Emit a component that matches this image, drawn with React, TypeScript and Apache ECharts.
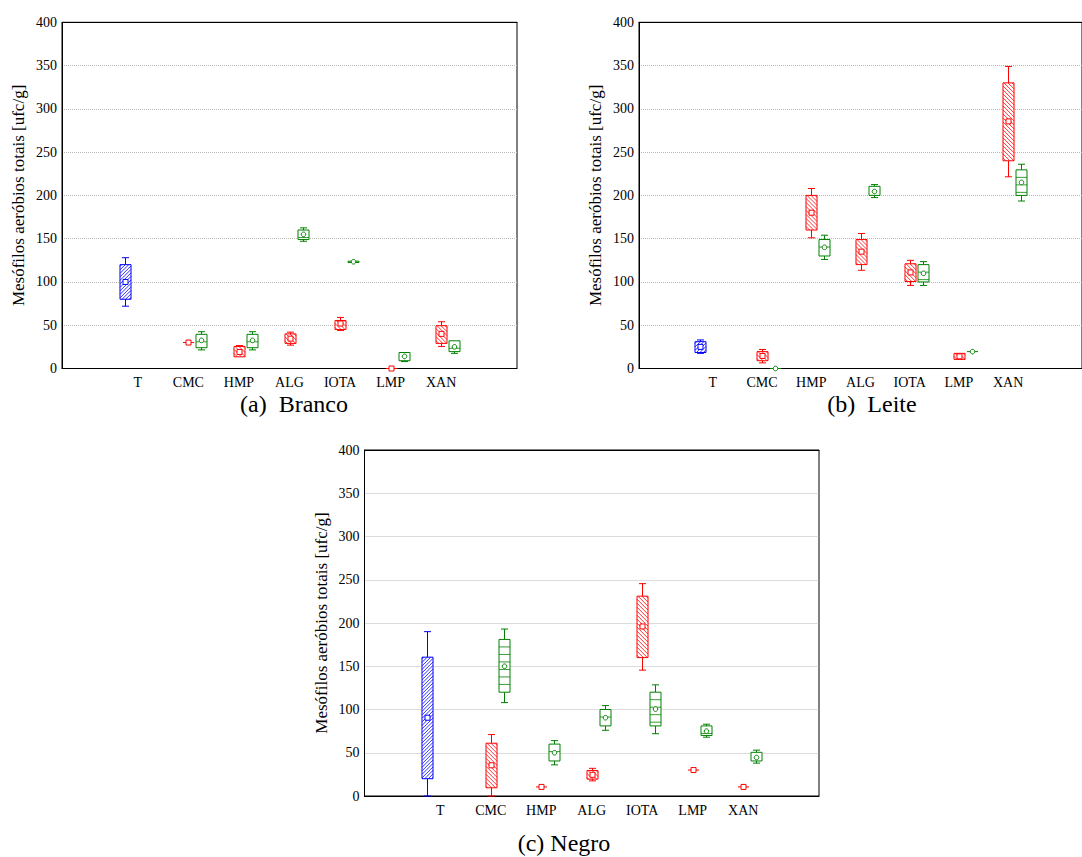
import React, { useEffect, useRef } from 'react';
import * as echarts from 'echarts';

const categories = ['', 'T', 'CMC', 'HMP', 'ALG', 'IOTA', 'LMP', 'XAN', ''];
const yMin = 0;
const yMax = 400;
const yInterval = 50;
const yName = 'Mesófilos aeróbios totais [ufc/g]';
const captions = ['(a)  Branco', '(b)  Leite', '(c) Negro'];

// each row: [categoryIndex, low whisker, box bottom, centre, box top, high whisker]
const brancoBlue = [[1, 72, 80, 100, 120, 128]];
const brancoRed = [
  [2, 30, 30, 30, 30, 30],
  [3, 13, 13.5, 19, 25.5, 26.5],
  [4, 27, 29, 34.5, 40, 42],
  [5, 44, 45, 52, 55.5, 59],
  [6, 0, 0, 0, 0, 0],
  [7, 25.5, 29, 40, 49.5, 54],
];
const brancoGreen = [
  [2, 21.5, 24, 32.5, 39.5, 42.5],
  [3, 21.5, 24, 32.5, 39.5, 42.5],
  [4, 147, 149, 155, 160, 162.5],
  [5, 122, 122.5, 123.3, 124, 124.5],
  [6, 8, 9, 14, 18.5, 19],
  [7, 17.5, 19.5, 25, 32, 32.5],
];

const leiteBlue = [[1, 17.5, 18.5, 25, 31, 33]];
const leiteRed = [
  [2, 6.5, 9, 14.5, 19.5, 22],
  [3, 151, 160, 180, 200, 208],
  [4, 113.5, 120, 135, 149, 156],
  [5, 96, 100.5, 111, 121, 125],
  [6, 10.5, 10.5, 14, 17.5, 17.5],
  [7, 221.5, 240, 285.5, 330, 349],
];
const leiteGreen = [
  [2, 0, 0, 0, 0, 0],
  [3, 126, 130, 140, 149, 154],
  [4, 197.5, 200, 204.5, 210.5, 212.5],
  [5, 96, 100, 110, 120, 123.5],
  [6, 19.5, 19.5, 19.5, 19.5, 19.5],
  [7, 193.5, 200, 215, 229.5, 236],
];

const negroBlue = [[1, 0, 20, 90.5, 160.5, 190]];
const negroRed = [
  [2, 0, 9.5, 35.5, 61, 71],
  [3, 10.5, 10.5, 10.5, 10.5, 10.5],
  [4, 17.5, 19.5, 24.5, 29.5, 32],
  [5, 145.5, 160, 196, 231, 245.5],
  [6, 30, 30, 30, 30, 30],
  [7, 10.5, 10.5, 10.5, 10.5, 10.5],
];
const negroGreen = [
  [2, 108, 120, 150, 181, 193],
  [3, 36, 40.5, 50, 60, 64],
  [4, 76, 81, 90.5, 100, 104.5],
  [5, 72, 81, 100.5, 120, 128.5],
  [6, 68, 70, 75, 81, 83],
  [7, 38, 40.5, 44.5, 50.5, 53],
];

const FONT = "'Liberation Serif', 'Times New Roman', serif";
const BLUE = '#0000ff';
const RED = '#ff0000';
const GREEN = '#008000';

type Kind = 'blue' | 'red' | 'green';

function makeRender(kind: Kind, color: string, offset: number) {
  return function (params: any, api: any) {
    const cat = api.value(0);
    const lo = api.value(1);
    const q1 = api.value(2);
    const mid = api.value(3);
    const q3 = api.value(4);
    const hi = api.value(5);
    const cx = api.coord([cat, mid])[0] + offset;
    const x = Math.round(cx) + 0.5;
    const yLo = api.coord([cat, lo])[1];
    const yQ1 = api.coord([cat, q1])[1];
    const yMid = api.coord([cat, mid])[1];
    const yQ3 = api.coord([cat, q3])[1];
    const yHi = api.coord([cat, hi])[1];
    const bw = 11;
    const cw = 7;
    const x0 = x - bw / 2;
    const ls = { stroke: color, lineWidth: 1, fill: null };
    const children: any[] = [];
    if (yHi < yQ3 - 0.5) {
      children.push({ type: 'line', shape: { x1: x, y1: yHi, x2: x, y2: yQ3 }, style: ls });
      children.push({ type: 'line', shape: { x1: x - cw / 2, y1: yHi, x2: x + cw / 2, y2: yHi }, style: ls });
    }
    if (yLo > yQ1 + 0.5) {
      children.push({ type: 'line', shape: { x1: x, y1: yQ1, x2: x, y2: yLo }, style: ls });
      children.push({ type: 'line', shape: { x1: x - cw / 2, y1: yLo, x2: x + cw / 2, y2: yLo }, style: ls });
    }
    const h = yQ1 - yQ3;
    if (h < 1) {
      children.push({ type: 'line', shape: { x1: x0, y1: yMid, x2: x0 + bw, y2: yMid }, style: ls });
    } else {
      children.push({
        type: 'rect',
        shape: { x: x0, y: yQ3, width: bw, height: h },
        style: { fill: '#fff', stroke: color, lineWidth: 1 },
      });
      const y0 = yQ3;
      const y1 = yQ1;
      const x1 = x0 + bw;
      const hs = { stroke: color, lineWidth: 0.8, fill: null };
      if (kind === 'green') {
        for (let yy = y0 + 7.5; yy < y1 - 2; yy += 7.5) {
          children.push({ type: 'line', shape: { x1: x0, y1: yy, x2: x1, y2: yy }, style: hs });
        }
      } else if (kind === 'red') {
        const step = 4;
        for (let c = y0 - x1 + step / 2; c < y1 - x0; c += step) {
          const xs = Math.max(x0, y0 - c);
          const xe = Math.min(x1, y1 - c);
          if (xe > xs) children.push({ type: 'line', shape: { x1: xs, y1: xs + c, x2: xe, y2: xe + c }, style: hs });
        }
      } else {
        const step = 3.5;
        for (let c = y0 + x0 + step / 2; c < y1 + x1; c += step) {
          const xs = Math.max(x0, c - y1);
          const xe = Math.min(x1, c - y0);
          if (xe > xs) children.push({ type: 'line', shape: { x1: xs, y1: c - xs, x2: xe, y2: c - xe }, style: hs });
        }
      }
    }
    if (kind === 'green') {
      children.push({ type: 'circle', shape: { cx: x, cy: yMid, r: 2.3 }, style: { fill: '#fff', stroke: color, lineWidth: 1 } });
    } else {
      children.push({ type: 'rect', shape: { x: x - 2.5, y: yMid - 2.5, width: 5, height: 5 }, style: { fill: '#fff', stroke: color, lineWidth: 1 } });
    }
    return { type: 'group', children };
  };
}

const grids = [
  { left: 62, top: 22.3, width: 455, height: 346.2 },
  { left: 639, top: 22.3, width: 453.6, height: 346.2 },
  { left: 364.5, top: 450, width: 454.5, height: 346 },
];

const seriesData = [
  [brancoBlue, brancoRed, brancoGreen],
  [leiteBlue, leiteRed, leiteGreen],
  [negroBlue, negroRed, negroGreen],
];

export default function App() {
  const ref = useRef<HTMLDivElement>(null);
  useEffect(() => {
    if (!ref.current) return;
    const chart = echarts.init(ref.current, null, { renderer: 'svg' });
    const xAxis: any[] = [];
    const yAxis: any[] = [];
    const series: any[] = [];
    grids.forEach((g, i) => {
      xAxis.push({
        type: 'category',
        gridIndex: i,
        data: categories,
        boundaryGap: true,
        axisLine: { lineStyle: { color: '#000', width: 1 } },
        axisTick: { alignWithLabel: true, inside: true, length: 3, lineStyle: { color: '#000' } },
        axisLabel: { interval: 0, color: '#000', fontFamily: FONT, fontSize: 14, margin: 7, lineHeight: 14 },
        splitLine: { show: false },
      });
      xAxis.push({
        type: 'category',
        gridIndex: i,
        position: 'top',
        data: categories,
        boundaryGap: true,
        axisLine: { lineStyle: { color: '#000', width: 1 } },
        axisTick: { alignWithLabel: true, inside: true, length: 3, lineStyle: { color: '#000' } },
        axisLabel: { show: false },
        splitLine: { show: false },
      });
      yAxis.push({
        type: 'value',
        gridIndex: i,
        min: yMin,
        max: yMax,
        interval: yInterval,
        name: yName,
        nameLocation: 'middle',
        nameGap: 35,
        nameTextStyle: { color: '#000', fontFamily: FONT, fontSize: 17 },
        axisLine: { show: true, lineStyle: { color: '#000', width: 1 } },
        axisTick: { show: false },
        axisLabel: { color: '#000', fontFamily: FONT, fontSize: 14, margin: 5 },
        splitLine: { show: true, lineStyle: { color: '#b8b8b8', type: 'dotted', width: 1 } },
      });
      const kinds: Kind[] = ['blue', 'red', 'green'];
      const colors = [BLUE, RED, GREEN];
      const offsets = [-13, 0, 13];
      kinds.forEach((k, j) => {
        series.push({
          type: 'custom',
          xAxisIndex: i * 2,
          yAxisIndex: i,
          data: seriesData[i][j],
          encode: { x: 0, y: 3 },
          renderItem: makeRender(k, colors[j], offsets[j]),
          clip: false,
          silent: true,
        });
      });
    });
    chart.setOption({
      animation: false,
      backgroundColor: '#fff',
      grid: grids.map((g) => ({ ...g, show: true, borderColor: '#000', borderWidth: 1, backgroundColor: 'transparent' })),
      xAxis,
      yAxis,
      series,
      graphic: [
        { type: 'text', x: 294, y: 404, style: { text: captions[0], font: `24px ${FONT}`, fill: '#000', textAlign: 'center', textVerticalAlign: 'middle' } },
        { type: 'text', x: 872, y: 404, style: { text: captions[1], font: `24px ${FONT}`, fill: '#000', textAlign: 'center', textVerticalAlign: 'middle' } },
        { type: 'text', x: 564, y: 843, style: { text: captions[2], font: `24px ${FONT}`, fill: '#000', textAlign: 'center', textVerticalAlign: 'middle' } },
      ],
    });
    return () => chart.dispose();
  }, []);
  return (
    <div style={{ position: 'fixed', left: 0, top: 0, width: 1082, height: 857, overflow: 'hidden', background: '#fff' }}>
      <div ref={ref} style={{ width: 1082, height: 857 }} />
    </div>
  );
}
